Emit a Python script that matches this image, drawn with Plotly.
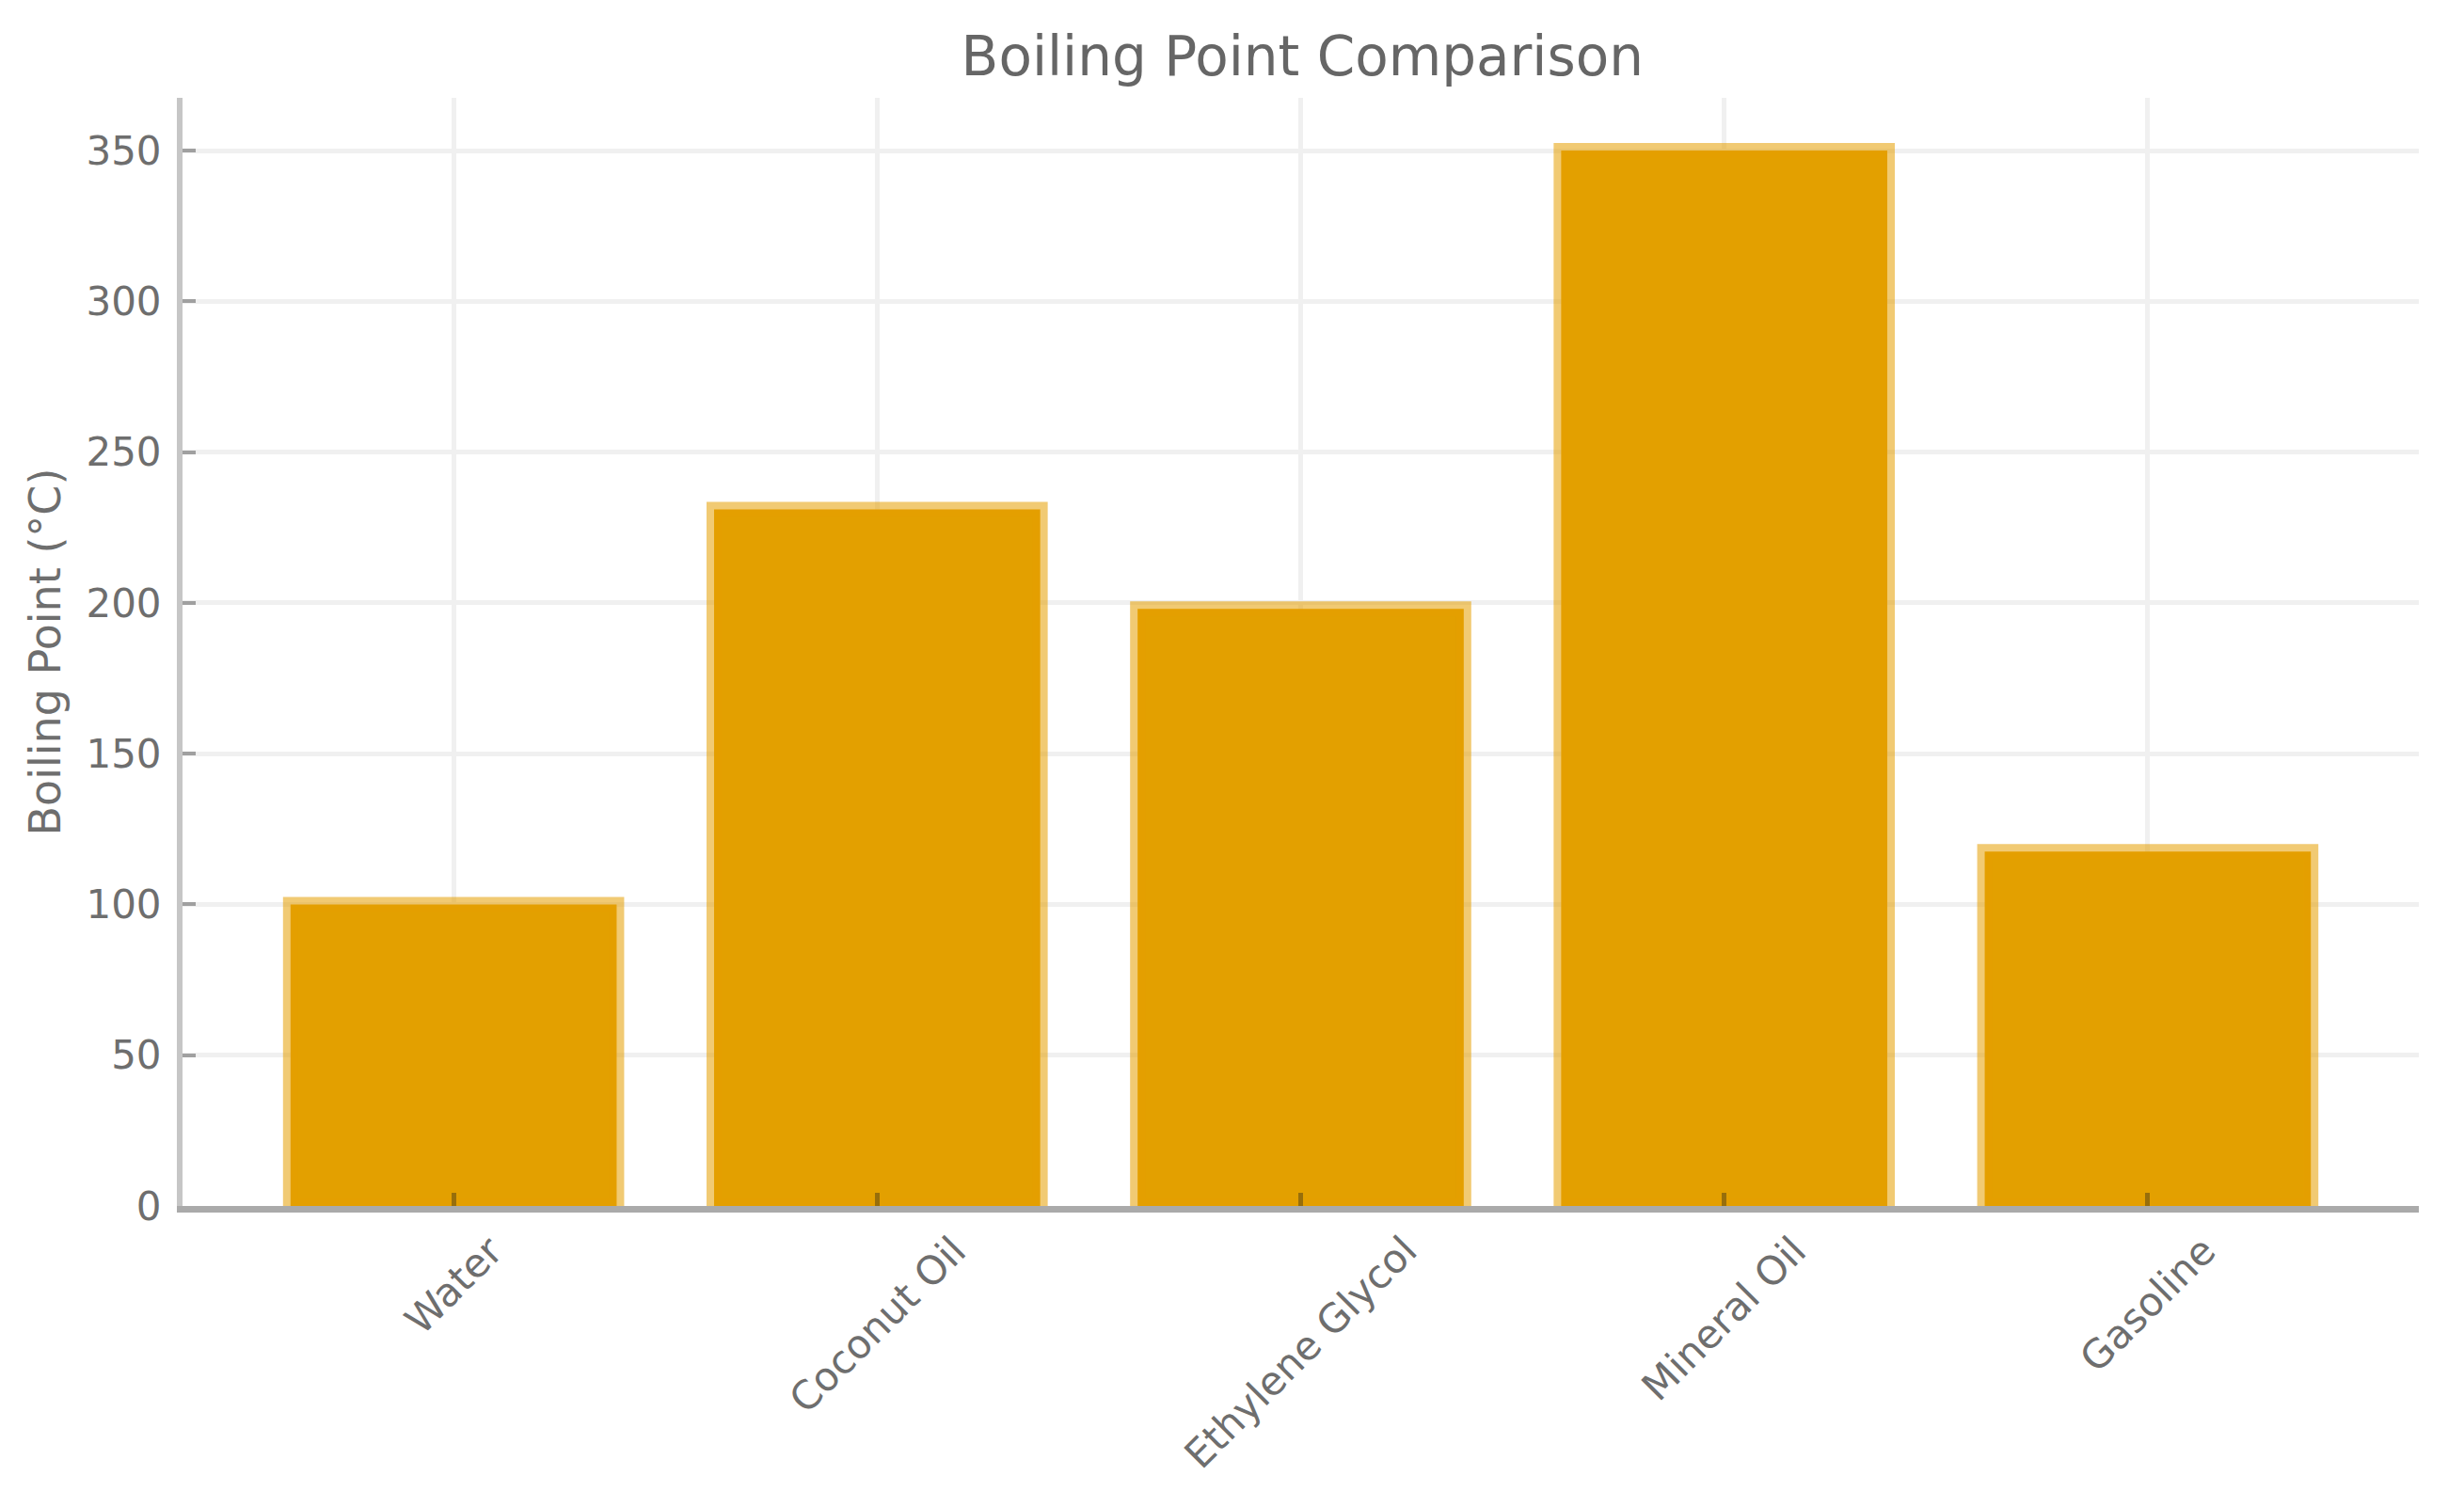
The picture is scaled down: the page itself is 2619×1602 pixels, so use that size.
"""Boiling point bar chart
"""
import plotly.graph_objects as go

liquids = ["Water", "Coconut Oil", "Ethylene Glycol", "Mineral Oil", "Gasoline"]
boiling_c = [100, 231, 198, 350, 117.5]
y_ticks = [0, 50, 100, 150, 200, 250, 300, 350]

FONT = "DejaVu Sans"
TEXT = "#6e6e6e"
ORANGE = "#e3a000"

fig = go.Figure()
fig.add_trace(
    go.Bar(
        x=liquids,
        y=boiling_c,
        width=0.77,
        marker=dict(color=ORANGE,
                    line=dict(color="rgba(230,159,0,0.55)", width=16)),
        showlegend=False,
    ))

# rotated labels centred under each tick (like ha='center', rotation=45)
for name in liquids:
    fig.add_annotation(
        x=name, y=0, xref="x", yref="paper",
        text=name, showarrow=False, textangle=-45,
        xanchor="center", yanchor="top", yshift=-20,
        font=dict(family=FONT, size=42, color=TEXT))

fig.update_xaxes(
    type="category",
    range=[-0.64, 4.64],
    showticklabels=False,
    showgrid=True, gridcolor="#f0f0f0", gridwidth=5,
    showline=True, linecolor="rgba(100,100,100,0.55)", linewidth=7,
    ticks="inside", ticklen=14, tickwidth=5,
    tickcolor="rgba(90,70,20,0.55)",
    layer="above traces",
    zeroline=False,
)
fig.update_yaxes(
    range=[0, 367.5],
    tickvals=y_ticks,
    tickfont=dict(family=FONT, size=42, color=TEXT),
    showgrid=True, gridcolor="#f0f0f0", gridwidth=5,
    showline=True, linecolor="#c6c6c6", linewidth=6,
    ticks="inside", ticklen=14, tickwidth=4, tickcolor="#a0a0a0",
    ticklabelstandoff=8,
    layer="above traces",
    zeroline=False,
    title=dict(text="Boiling Point (°C)", standoff=14,
               font=dict(family=FONT, size=46, color=TEXT)),
)
fig.update_layout(
    width=2619, height=1602,
    paper_bgcolor="white", plot_bgcolor="white",
    margin=dict(l=186, r=56, t=96, b=328),
    font=dict(family=FONT, color=TEXT),
    title=dict(text="Boiling Point Comparison", x=0.5255, xanchor="center",
               y=1 - 52 / 1602, yanchor="middle", yref="container",
               font=dict(family=FONT, size=58, color="#666666")),
)

fig.write_html("out.html")
